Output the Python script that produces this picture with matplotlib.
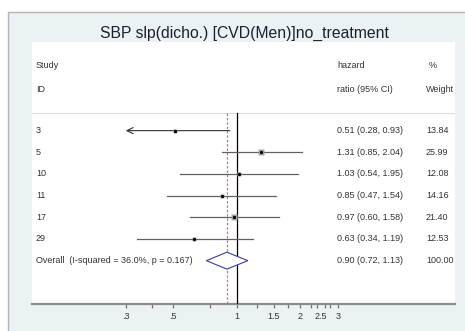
import numpy as np
import matplotlib
matplotlib.use("Agg")
import matplotlib.pyplot as plt
from matplotlib.patches import Rectangle, Polygon

plt.rcParams['font.family'] = ['Liberation Sans', 'DejaVu Sans']

title = "SBP slp(dicho.) [CVD(Men)]no_treatment"
studies = ["3", "5", "10", "11", "17", "29"]
hr = [0.51, 1.31, 1.03, 0.85, 0.97, 0.63]
lo = [0.28, 0.85, 0.54, 0.47, 0.60, 0.34]
hi = [0.93, 2.04, 1.95, 1.54, 1.58, 1.19]
weights = [13.84, 25.99, 12.08, 14.16, 21.40, 12.53]
overall_label = "Overall  (I-squared = 36.0%, p = 0.167)"
overall = (0.90, 0.72, 1.13)
overall_weight = 100.00
tick_vals = [0.3, 0.4, 0.5, 0.75, 1, 1.25, 1.5, 1.75, 2, 2.25, 2.4, 2.6, 2.75, 3]
label_vals = [0.3, 0.5, 1, 1.5, 2, 2.5, 3]
label_txt = [".3", ".5", "1", "1.5", "2", "2.5", "3"]
axis_min = 0.3

W, H = 465, 331
fig = plt.figure(figsize=(W / 100, H / 100), dpi=100)
fig.patch.set_facecolor('white')

# outer panel (background axes)
panel_col = '#eaf2f3'
bg = fig.add_axes([0, 0, 1, 1], zorder=-5)
bg.set_xlim(0, W)
bg.set_ylim(H, 0)
bg.axis('off')
bg.add_patch(Rectangle((8, 12), W + 20, H + 20, facecolor=panel_col, edgecolor='#b4b4b4', lw=1.0))

# axes (white inner region)
x0, x1, ytop, ybot = 32, 455, 42, 304
ax = fig.add_axes([x0 / W, (H - ybot) / H, (x1 - x0) / W, (ybot - ytop) / H], zorder=1)
ax.set_facecolor('white')
ax.set_xscale('log')
one_px, scale = 236.6, 92.07
ax.set_xlim(np.exp((x0 - one_px) / scale), np.exp((x1 - one_px) / scale))
ax.set_ylim(8.0, -4.09)
for s in ['top', 'right', 'left']:
    ax.spines[s].set_visible(False)
ax.spines['bottom'].set_color('#8c8c8c')
ax.spines['bottom'].set_linewidth(1.6)
ax.set_yticks([])

ax.xaxis.set_major_locator(matplotlib.ticker.FixedLocator(tick_vals))
ax.xaxis.set_minor_locator(matplotlib.ticker.NullLocator())
ax.xaxis.set_major_formatter(matplotlib.ticker.NullFormatter())
ax.tick_params(axis='x', which='major', length=3, width=0.9, color='#707070', direction='out')
txtc = '#333333'
fs = 6.5
for v, t in zip(label_vals, label_txt):
    ax.text(v, 8.0 + 0.58, t, ha='center', va='center', fontsize=fs, color=txtc, clip_on=False)

# separator and reference lines
sep_y = -0.8
ax.axhline(sep_y, color='#dcdcdc', lw=0.8)
ax.plot([1, 1], [sep_y, 8.0], color='black', lw=0.9, zorder=3)
ax.plot([overall[0]] * 2, [sep_y, 8.0], color='#c87878', lw=0.9, ls=(0, (2, 1.5)), zorder=2)

def fx(px):
    return (px - x0) / (x1 - x0)

trans = matplotlib.transforms.blended_transform_factory(ax.transAxes, ax.transData)

# header
ax.text(fx(36), -3.0, "Study", transform=trans, fontsize=fs, color=txtc, va='center')
ax.text(fx(36), -1.9, "ID", transform=trans, fontsize=fs, color=txtc, va='center')
ax.text(fx(337), -3.0, "hazard", transform=trans, fontsize=fs, color=txtc, va='center')
ax.text(fx(337), -1.9, "ratio (95% CI)", transform=trans, fontsize=fs, color=txtc, va='center')
ax.text(fx(429), -3.0, "%", transform=trans, fontsize=fs, color=txtc, va='center')
ax.text(fx(426), -1.9, "Weight", transform=trans, fontsize=fs, color=txtc, va='center')

maxw = max(weights)
for k, (name, h, l, u, w) in enumerate(zip(studies, hr, lo, hi, weights)):
    ax.text(fx(36), k, name, transform=trans, fontsize=fs, color=txtc, va='center')
    ax.text(fx(337), k, f"{h:.2f} ({l:.2f}, {u:.2f})", transform=trans, fontsize=fs, color=txtc, va='center')
    ax.text(fx(426), k, f"{w:.2f}", transform=trans, fontsize=fs, color=txtc, va='center')
    if l < axis_min:
        ax.annotate('', xy=(axis_min, k), xytext=(u, k),
                    arrowprops=dict(arrowstyle='->', color='#303030', lw=0.8,
                                    shrinkA=0, shrinkB=0, mutation_scale=11))
    else:
        ax.plot([l, u], [k, k], color='#606060', lw=0.9, zorder=4)
    ax.plot([h], [k], marker='s', ms=4.6 * np.sqrt(w / maxw), color='#a8a8a8', mec='none', zorder=5)
    ax.plot([h], [k], marker='o', ms=2.4, color='black', mec='none', zorder=6)

ko = len(studies)
ax.text(fx(36), ko, overall_label, transform=trans, fontsize=fs, color=txtc, va='center')
ax.text(fx(337), ko, f"{overall[0]:.2f} ({overall[1]:.2f}, {overall[2]:.2f})", transform=trans,
        fontsize=fs, color=txtc, va='center')
ax.text(fx(426), ko, f"{overall_weight:.2f}", transform=trans, fontsize=fs, color=txtc, va='center')
dh = 0.39
diamond = Polygon([(overall[1], ko), (overall[0], ko - dh), (overall[2], ko), (overall[0], ko + dh)],
                  closed=True, facecolor='white', edgecolor='#3c3c9c', lw=0.8, zorder=5)
ax.add_patch(diamond)

fig.text(244 / W, 1 - 33 / H, title, ha='center', va='center', fontsize=11.3, color='#1e1e2e')

fig.savefig('out.png', dpi=100, facecolor='white')
